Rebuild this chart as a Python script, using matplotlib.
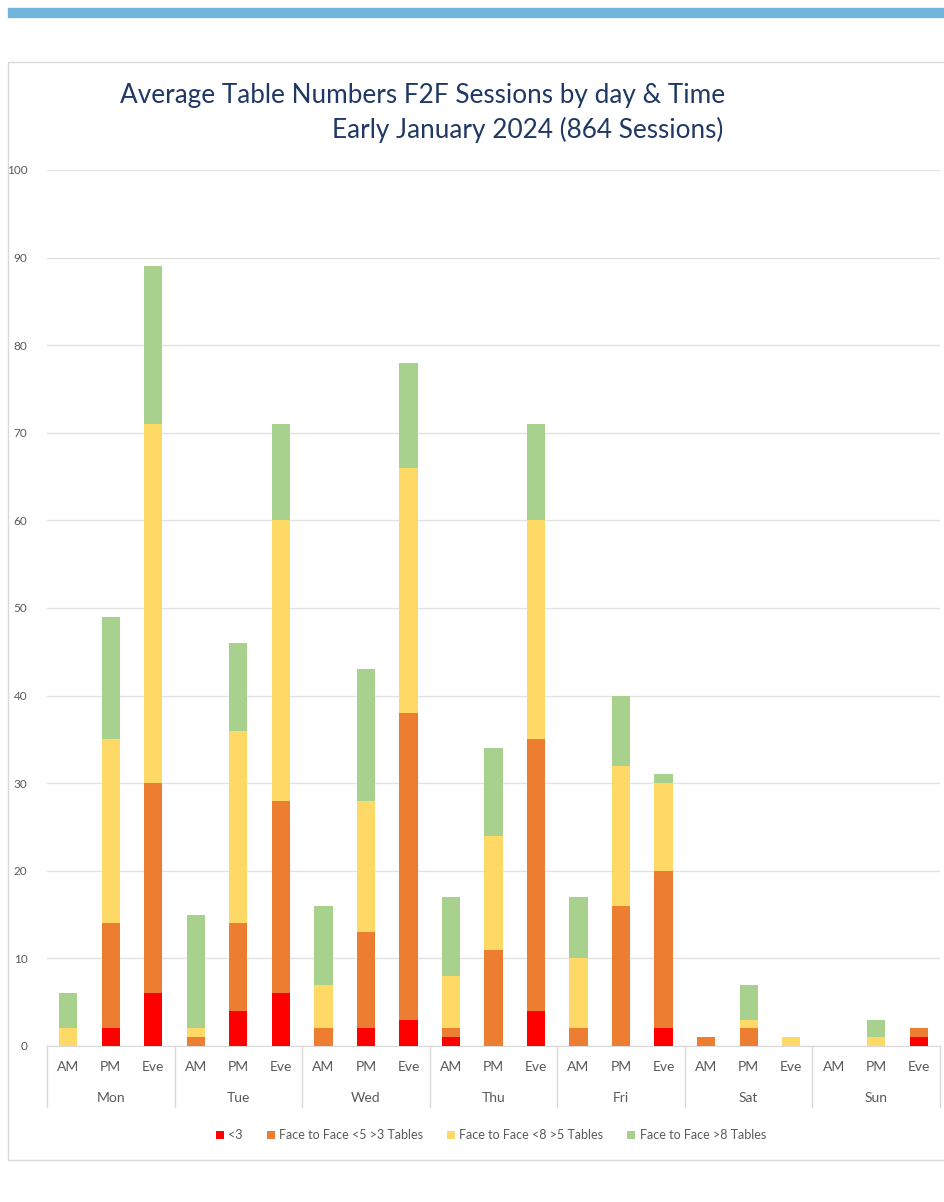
import numpy as np
import matplotlib
matplotlib.use("Agg")
import matplotlib.pyplot as plt
from matplotlib.patches import Rectangle
import matplotlib.transforms as mtransforms

plt.rcParams['font.family'] = ['Lato', 'DejaVu Sans']

# data
days = ["Mon", "Tue", "Wed", "Thu", "Fri", "Sat", "Sun"]
times = ["AM", "PM", "Eve"]
series_names = ["<3", "Face to Face <5 >3 Tables",
                "Face to Face <8 >5 Tables", "Face to Face >8 Tables"]
under3 = [0, 2, 6, 0, 4, 6, 0, 2, 3, 1, 0, 4, 0, 0, 2, 0, 0, 0, 0, 0, 1]
f2f_3to5 = [0, 12, 24, 1, 10, 22, 2, 11, 35, 1, 11, 31, 2, 16, 18, 1, 2, 0, 0, 0, 1]
f2f_5to8 = [2, 21, 41, 1, 22, 32, 5, 15, 28, 6, 13, 25, 8, 16, 10, 0, 1, 1, 0, 1, 0]
f2f_over8 = [4, 14, 18, 13, 10, 11, 9, 15, 12, 9, 10, 11, 7, 8, 1, 0, 4, 0, 0, 2, 0]
colors = ["#FF0000", "#ED7D31", "#FFD966", "#A9D18E"]

W, H = 945, 1202
fig = plt.figure(figsize=(W / 100, H / 100), dpi=100)

# top accent bar and chart frame
fig.patches.append(Rectangle((8 / W, 1 - 17 / H), (W - 8) / W, 9 / H,
                             transform=fig.transFigure, color="#72B5DA", zorder=0))
fig.patches.append(Rectangle((8 / W, 1 - 1160 / H), (W - 6) / W, (1160 - 62) / H,
                             transform=fig.transFigure, fill=False,
                             edgecolor="#D9D9D9", linewidth=1, zorder=0))

ax = fig.add_axes([47 / W, 1 - 1046 / H, (940 - 47) / W, (1046 - 170) / H])

series = [under3, f2f_3to5, f2f_5to8, f2f_over8]
n = len(under3)
x = np.arange(n)
bottom = np.zeros(n)
for vals, name, c in zip(series, series_names, colors):
    ax.bar(x, vals, bottom=bottom, width=0.43, color=c, label=name, zorder=3)
    bottom += np.array(vals)

ax.set_xlim(-0.5, n - 0.5)
ax.set_ylim(0, 100)
ax.set_yticks(range(0, 101, 10))
ax.yaxis.grid(True, color="#E3E3E3", linewidth=1)
ax.set_axisbelow(True)
for s in ["top", "right", "left"]:
    ax.spines[s].set_visible(False)
ax.spines["bottom"].set_color("#D9D9D9")
ax.tick_params(axis="y", length=0, labelsize=8.5, labelcolor="#595959", pad=14)
ax.tick_params(axis="x", length=0, labelbottom=False)

# two-level category axis
trans = mtransforms.blended_transform_factory(ax.transData, ax.transAxes)
for i in range(n):
    ax.text(x[i], -0.024, times[i % 3], transform=trans, ha="center", va="center",
            fontsize=10, color="#595959")
for d, day in enumerate(days):
    ax.text(3 * d + 1, -0.059, day, transform=trans, ha="center", va="center",
            fontsize=10, color="#595959")
for b in range(len(days) + 1):
    ax.plot([3 * b - 0.5, 3 * b - 0.5], [0, -0.07], transform=trans,
            color="#D9D9D9", linewidth=1, clip_on=False)

ax.legend(loc="center", bbox_to_anchor=(0.497, -0.102), ncol=4, frameon=False,
          fontsize=9, handlelength=0.65, handleheight=0.65, handletextpad=0.35,
          columnspacing=1.9, labelcolor="#595959")

fig.text(423 / W, 1 - 95 / H, "Average Table Numbers F2F Sessions by day & Time",
         ha="center", va="center", fontsize=18.8, color="#1F3864")
fig.text(723 / W, 1 - 130 / H, "Early January 2024 (864 Sessions)",
         ha="right", va="center", fontsize=18.8, color="#1F3864")

fig.savefig("out.png", dpi=100)
